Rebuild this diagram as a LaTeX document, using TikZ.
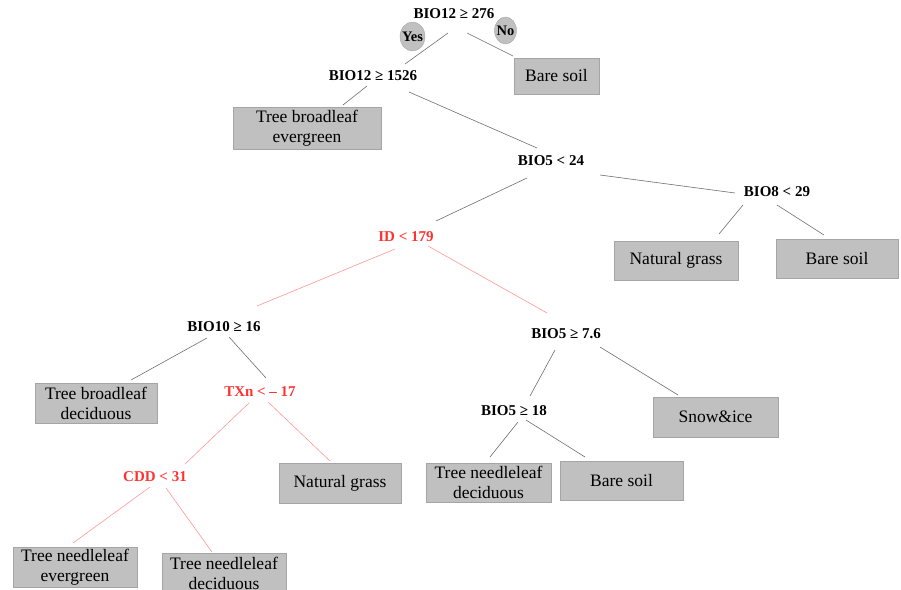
\documentclass[tikz,border=0pt]{standalone}
\usepackage{fontspec}
\setmainfont{Liberation Serif}
\usetikzlibrary{calc,shapes.geometric}
\definecolor{boxfill}{RGB}{192,192,192}
\definecolor{boxline}{RGB}{165,165,165}
\definecolor{edgegray}{RGB}{110,110,110}
\definecolor{edgered}{RGB}{255,150,150}
\definecolor{txtred}{RGB}{255,50,50}
\tikzset{
  leafbox/.style={draw=boxline, fill=boxfill, line width=0.8pt, inner sep=0pt,
    font=\fontsize{17.5}{20}\selectfont, align=center},
  split/.style={font=\fontsize{15}{17}\selectfont\bfseries, inner sep=0pt},
  redsplit/.style={split, text=txtred},
  ansbub/.style={ellipse, draw=boxline, fill=boxfill, inner xsep=-5pt, inner ysep=-2pt,
    font=\fontsize{14.5}{16}\selectfont\bfseries},
  edge/.style={draw=edgegray, line width=0.6pt},
  rededge/.style={draw=edgered, line width=0.6pt},
}
\begin{document}
\begin{tikzpicture}[x=1pt, y=-1pt]
\useasboundingbox (0,0) rectangle (901,589);
\clip (0,0) rectangle (901,589);
% split labels
\node[split] (n1) at (454,14) {BIO12 ≥ 276};
\node[ansbub, minimum width=25pt, minimum height=29pt] (yes) at (412.5,36.5) {Yes};
\node[ansbub, minimum width=22pt, minimum height=27pt] (no) at (505.5,30.5) {No};
\node[split] (n2) at (373,76) {BIO12 ≥ 1526};
\node[split] (n3) at (551,161) {BIO5 < 24};
\node[split] (n4) at (777,192) {BIO8 < 29};
\node[redsplit] (n5) at (406,237) {ID < 179};
\node[split] (n6) at (224,327) {BIO10 ≥ 16};
\node[split] (n7) at (566,334) {BIO5 ≥ 7.6};
\node[redsplit] (n8) at (260,392) {TXn < – 17};
\node[redsplit] (n9) at (155,477) {CDD < 31};
\node[split] (n10) at (514,411) {BIO5 ≥ 18};
% leaves
\node[leafbox, minimum width=85pt, minimum height=36pt] (bs1) at (556.5,76) {Bare soil};
\node[leafbox, minimum width=148pt, minimum height=42pt] (tbe) at (307,128) {Tree broadleaf\\evergreen};
\node[leafbox, minimum width=124pt, minimum height=39pt] (ng1) at (676,260.5) {Natural grass};
\node[leafbox, minimum width=122pt, minimum height=39pt] (bs2) at (837,258.5) {Bare soil};
\node[leafbox, minimum width=122pt, minimum height=40pt] (tbd) at (96,403) {Tree broadleaf\\deciduous};
\node[leafbox, minimum width=122pt, minimum height=40pt] (ng2) at (340,483) {Natural grass};
\node[leafbox, minimum width=124pt, minimum height=40pt] (tne) at (75,567) {Tree needleleaf\\evergreen};
\node[leafbox, minimum width=124pt, minimum height=40pt] (tnd2) at (224,573) {Tree needleleaf\\deciduous};
\node[leafbox, minimum width=125pt, minimum height=40pt] (snow) at (715.5,417) {Snow\&ice};
\node[leafbox, minimum width=125pt, minimum height=39pt] (tnd1) at (488.5,482.5) {Tree needleleaf\\deciduous};
\node[leafbox, minimum width=123pt, minimum height=39pt] (bs3) at (621.5,481) {Bare soil};
% connectors
\draw[edge] ($(n1)+(-6,19)$) -- ($(n2)+(32,-12)$);
\draw[edge] ($(n1)+(13,19)$) -- ($(bs1)+(-43.5,-20)$);
\draw[edge] ($(n2)+(-6,10)$) -- ($(tbe)+(36,-23)$);
\draw[edge] ($(n2)+(36,16)$) -- ($(n3)+(-14,-13)$);
\draw[edge] ($(n3)+(-24,17)$) -- ($(n5)+(30,-16)$);
\draw[edge] ($(n3)+(49,14)$) -- ($(n4)+(-42,1)$);
\draw[edge] ($(n4)+(-34,13)$) -- ($(ng1)+(43,-26.5)$);
\draw[edge] ($(n4)+(0,13)$) -- ($(bs2)+(-13,-23.5)$);
\draw[rededge] ($(n5)+(-11,12)$) -- ($(n6)+(33,-21)$);
\draw[rededge] ($(n5)+(22,9)$) -- ($(n7)+(-19,-21)$);
\draw[edge] ($(n6)+(-17,11)$) -- ($(tbd)+(35,-23)$);
\draw[edge] ($(n6)+(5,10)$) -- ($(n8)+(6,-14)$);
\draw[rededge] ($(n8)+(-11,11)$) -- ($(n9)+(30,-13)$);
\draw[rededge] ($(n8)+(8,10)$) -- ($(ng2)+(-10,-22)$);
\draw[rededge] ($(n9)+(-5,10)$) -- ($(tne)+(-2,-24)$);
\draw[rededge] ($(n9)+(11,11)$) -- ($(tnd2)+(-12,-21)$);
\draw[edge] ($(n7)+(-11,16)$) -- ($(n10)+(16,-15)$);
\draw[edge] ($(n7)+(34,13)$) -- ($(snow)+(-37.5,-22)$);
\draw[edge] ($(n10)+(4,11)$) -- ($(tnd1)+(1.5,-25.5)$);
\draw[edge] ($(n10)+(12,9)$) -- ($(bs3)+(-36.5,-24)$);
\end{tikzpicture}
\end{document}
